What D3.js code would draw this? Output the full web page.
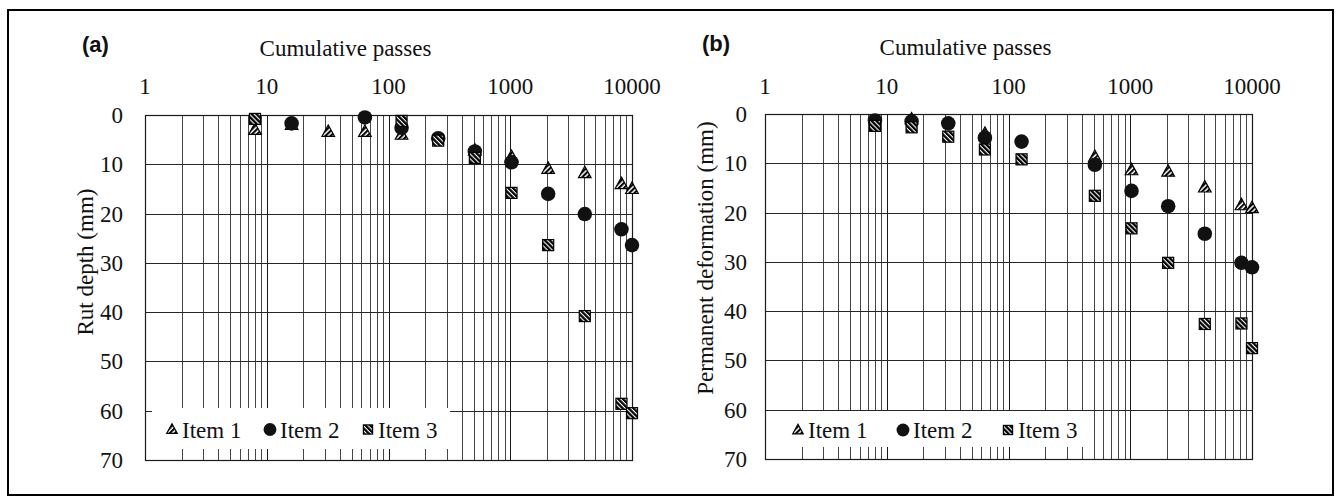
<!DOCTYPE html>
<html>
<head>
<meta charset="utf-8">
<script src="https://cdn.jsdelivr.net/npm/d3@7/dist/d3.min.js"></script>
<style>
  body { margin: 0; background: #fff; }
  svg text { font-family: "Liberation Serif", "DejaVu Serif", serif; fill: #111; }
</style>
</head>
<body>
<div id="chart"></div>
<script>
var svgWidth = 1341;
var svgHeight = 503;
var serif = "'Liberation Serif', 'DejaVu Serif', serif";

// data
var passes = [8, 16, 32, 64, 128, 256, 512, 1024, 2048, 4096, 8192, 10000];
var xTicks = [1, 10, 100, 1000, 10000];
var yTicks = [0, 10, 20, 30, 40, 50, 60, 70];
var seriesNames = ["Item 1", "Item 2", "Item 3"];

// (a) rut depth, mm (null = no point)
var rutItem1 = [3.0, 2.0, 3.4, 3.4, 4.0, null, 7.2, 8.5, 10.9, 11.8, 14.0, 15.0];
var rutItem2 = [null, 1.7, null, 0.5, 2.6, 4.7, 7.4, 9.6, 16.0, 20.1, 23.2, 26.4];
var rutItem3 = [0.8, null, null, null, 1.2, 5.2, 8.7, 15.8, 26.4, 40.8, 58.6, 60.5];

// (b) permanent deformation, mm
var pdItem1 = [null, 1.1, null, 4.0, null, null, 8.7, 11.4, 11.7, 14.9, 18.5, 19.1];
var pdItem2 = [1.3, 1.5, 1.9, 4.8, 5.6, null, 10.3, 15.6, 18.7, 24.3, 30.2, 31.1];
var pdItem3 = [2.4, 2.7, 4.6, 7.2, 9.2, null, 16.6, 23.2, 30.2, 42.6, 42.5, 47.5];

var svg = d3.select("#chart")
  .append("svg")
  .attr("width", svgWidth)
  .attr("height", svgHeight);

// hatch patterns for the markers
var defs = svg.append("defs");
defs.append("pattern")
  .attr("id", "hatchTri")
  .attr("width", 3.6).attr("height", 3.6)
  .attr("patternUnits", "userSpaceOnUse")
  .attr("patternTransform", "rotate(45)")
  .call(p => {
    p.append("rect").attr("width", 3.6).attr("height", 3.6).attr("fill", "#fff");
    p.append("rect").attr("width", 2.1).attr("height", 3.6).attr("fill", "#000");
  });
defs.append("pattern")
  .attr("id", "hatchSq")
  .attr("width", 3.4).attr("height", 3.4)
  .attr("patternUnits", "userSpaceOnUse")
  .attr("patternTransform", "rotate(-45)")
  .call(p => {
    p.append("rect").attr("width", 3.4).attr("height", 3.4).attr("fill", "#fff");
    p.append("rect").attr("width", 2.3).attr("height", 3.4).attr("fill", "#000");
  });

// outer frame
svg.append("rect")
  .attr("x", 8).attr("y", 10)
  .attr("width", 1325).attr("height", 485)
  .attr("fill", "none")
  .attr("stroke", "#000")
  .attr("stroke-width", 2);

function marker(g, kind, size) {
  if (kind === 0) {
    var h = size * 0.95, w = size * 1.05;
    g.append("path")
      .attr("d", `M0,${-h * 0.6}L${w / 2},${h * 0.4}L${-w / 2},${h * 0.4}Z`)
      .attr("fill", "url(#hatchTri)")
      .attr("stroke", "#000")
      .attr("stroke-width", 1.2);
  } else if (kind === 1) {
    g.append("circle")
      .attr("r", size * 0.56)
      .attr("fill", "#111");
  } else {
    g.append("rect")
      .attr("x", -size * 0.46).attr("y", -size * 0.46)
      .attr("width", size * 0.92).attr("height", size * 0.92)
      .attr("fill", "url(#hatchSq)")
      .attr("stroke", "#000")
      .attr("stroke-width", 1.2);
  }
}

function drawPanel(opt) {
  var width = 487, height = 345;
  var g = svg.append("g")
    .attr("transform", `translate(${opt.left}, ${opt.top})`);

  var x = d3.scaleLog().domain([1, 10000]).range([0, width]);
  var y = d3.scaleLinear().domain([0, 70]).range([0, height]);

  // vertical grid: every log step
  var minor = [];
  for (var d = 1; d < 10000; d *= 10) {
    for (var k = 1; k < 10; k++) minor.push(d * k);
  }
  minor.push(10000);
  g.append("g").selectAll("line")
    .data(minor)
    .enter().append("line")
    .attr("x1", d => Math.round(x(d)) + 0.5)
    .attr("x2", d => Math.round(x(d)) + 0.5)
    .attr("y1", 0).attr("y2", height)
    .attr("stroke", d => xTicks.indexOf(d) >= 0 ? "#1a1a1a" : "#454545")
    .attr("stroke-width", 1);

  // horizontal grid
  g.append("g").selectAll("line")
    .data(yTicks)
    .enter().append("line")
    .attr("x1", 0).attr("x2", width)
    .attr("y1", d => Math.round(y(d)) + 0.5)
    .attr("y2", d => Math.round(y(d)) + 0.5)
    .attr("stroke", "#262626")
    .attr("stroke-width", 1);

  // plot border
  g.append("rect")
    .attr("x", 0.5).attr("y", 0.5)
    .attr("width", width).attr("height", height)
    .attr("fill", "none")
    .attr("stroke", "#1a1a1a")
    .attr("stroke-width", 1.2);

  // x tick labels on top
  g.append("g").selectAll("text")
    .data(xTicks)
    .enter().append("text")
    .attr("x", d => x(d))
    .attr("y", opt.top === 115 ? -21 : -20)
    .attr("text-anchor", "middle")
    .style("font-family", serif)
    .style("font-size", "23px")
    .text(d => d);

  // y tick labels
  g.append("g").selectAll("text")
    .data(yTicks)
    .enter().append("text")
    .attr("x", -opt.yLabelGap)
    .attr("y", d => y(d))
    .attr("dy", "0.35em")
    .attr("text-anchor", "end")
    .style("font-family", serif)
    .style("font-size", "23px")
    .text(d => d);

  // axis titles
  g.append("text")
    .attr("x", width / 2 - 43)
    .attr("y", -59)
    .attr("text-anchor", "middle")
    .style("font-family", serif)
    .style("font-size", "23px")
    .text("Cumulative passes");

  g.append("text")
    .attr("transform", `translate(-60, ${opt.yTitleY}) rotate(-90)`)
    .attr("text-anchor", "middle")
    .attr("dy", "0.35em")
    .style("font-family", serif)
    .style("font-size", "23px")
    .text(opt.yTitle);

  // panel letter
  g.append("text")
    .attr("x", -63)
    .attr("y", -63)
    .style("font-family", "'Liberation Sans', Arial, sans-serif")
    .style("font-weight", "bold")
    .style("font-size", "22px")
    .text(opt.letter);

  // legend box (white, covers grid)
  var lg = g.append("g")
    .attr("transform", `translate(${opt.legend.x}, ${opt.legend.y})`);
  lg.append("rect")
    .attr("width", opt.legend.w).attr("height", opt.legend.h)
    .attr("fill", "#fff");
  seriesNames.forEach(function(name, i) {
    var item = lg.append("g")
      .attr("transform", `translate(${opt.legend.x0 + i * opt.legend.step}, ${opt.legend.h / 2 + 1})`);
    marker(item, i, i === 1 ? 11.5 : 10);
    item.append("text")
      .attr("x", 10)
      .attr("y", 8)
      .style("font-family", serif)
      .style("font-size", "23px")
      .text(name);
  });

  // points: Item 1, then Item 2, then Item 3 on top
  opt.series.forEach(function(vals, i) {
    var pts = passes.map((p, j) => ({ p: p, v: vals[j] })).filter(d => d.v !== null);
    g.append("g").selectAll("g")
      .data(pts)
      .enter().append("g")
      .attr("transform", d => `translate(${x(d.p)}, ${y(d.v)})`)
      .each(function() {
        marker(d3.select(this), i, i === 1 ? 13 : 12);
      });
  });
}

drawPanel({
  left: 145, top: 115,
  letter: "(a)",
  yTitle: "Rut depth (mm)",
  yTitleY: 147,
  yLabelGap: 22,
  series: [rutItem1, rutItem2, rutItem3],
  legend: { x: 7, y: 293, w: 298, h: 41, x0: 20, step: 98 }
});

drawPanel({
  left: 765, top: 114,
  letter: "(b)",
  yTitle: "Permanent deformation (mm)",
  yTitleY: 144,
  yLabelGap: 18,
  series: [pdItem1, pdItem2, pdItem3],
  legend: { x: 5, y: 297, w: 323, h: 36, x0: 28, step: 105 }
});
</script>
</body>
</html>
